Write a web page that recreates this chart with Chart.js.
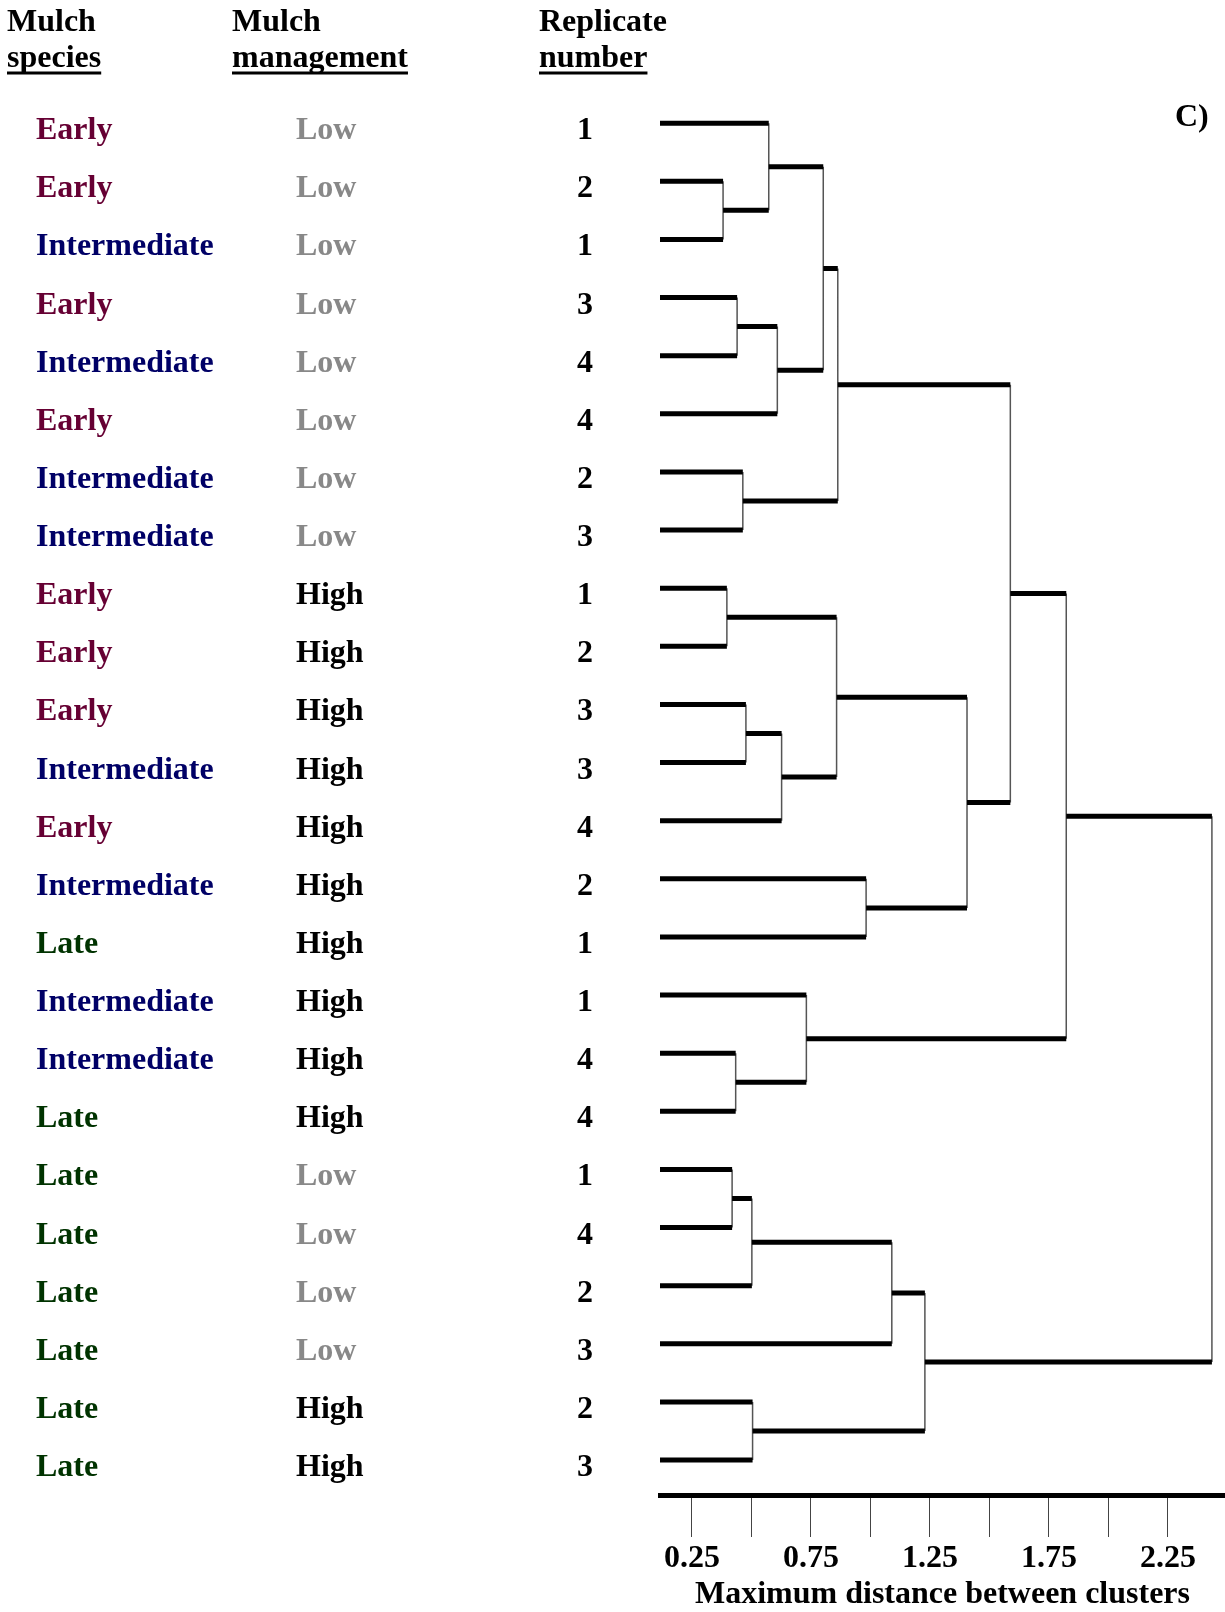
<!DOCTYPE html>
<html>
<head>
<meta charset="utf-8">
<script src="https://cdn.jsdelivr.net/npm/chart.js@4.4.0/dist/chart.umd.min.js"></script>
<style>
  html, body { margin: 0; padding: 0; background: #fff; }
  #wrap { position: relative; width: 1225px; height: 1612px; }
</style>
</head>
<body>
<div id="wrap"><canvas id="dendro"></canvas></div>
<script>
// ---- leaves, top to bottom ----
const species = ['Early', 'Early', 'Intermediate', 'Early', 'Intermediate', 'Early', 'Intermediate', 'Intermediate',
                 'Early', 'Early', 'Early', 'Intermediate', 'Early', 'Intermediate', 'Late', 'Intermediate',
                 'Intermediate', 'Late', 'Late', 'Late', 'Late', 'Late', 'Late', 'Late'];
const management = ['Low', 'Low', 'Low', 'Low', 'Low', 'Low', 'Low', 'Low',
                    'High', 'High', 'High', 'High', 'High', 'High', 'High', 'High',
                    'High', 'High', 'Low', 'Low', 'Low', 'Low', 'High', 'High'];
const replicate = [1, 2, 1, 3, 4, 4, 2, 3, 1, 2, 3, 3, 4, 2, 1, 1, 4, 4, 1, 4, 2, 3, 2, 3];

// ---- linkage: leaves are 0..23, each merge creates cluster 24, 25, ... ----
const mergeLeft     = [1, 8, 18, 16, 3, 6, 10, 26, 22, 0, 28, 30, 15, 33, 25, 37, 13, 31, 41, 38, 39, 44, 45];
const mergeRight    = [2, 9, 19, 17, 4, 7, 11, 20, 23, 24, 5, 12, 27, 34, 35, 29, 14, 21, 32, 40, 43, 36, 42];
const mergeDistance = [0.381, 0.397, 0.419, 0.434, 0.440, 0.464, 0.477, 0.502, 0.505, 0.573, 0.609, 0.627,
                       0.731, 0.802, 0.858, 0.863, 0.982, 1.090, 1.229, 1.406, 1.588, 1.823, 2.435];

const xTickLabels = [0.25, 0.75, 1.25, 1.75, 2.25];

// axis range
const X_MIN = 0.116, X_MAX = 2.49;

const FONT = 'bold 32px "Liberation Serif", "Times New Roman", serif';
const speciesColor = { Early: '#660033', Intermediate: '#000066', Late: '#003300' };
const managementColor = { Low: '#888888', High: '#000000' };

// =============================================
// BUILD SEGMENTS
// =============================================
const nodeX = [], nodeY = [];
species.forEach((_, i) => { nodeX[i] = X_MIN; nodeY[i] = i; });

const hSegs = [], vSegs = [];
const gap = { x: null, y: null };
mergeDistance.forEach((d, k) => {
    const a = mergeLeft[k], b = mergeRight[k];
    const id = species.length + k;
    [a, b].forEach(c => {
        hSegs.push({ x: nodeX[c], y: nodeY[c] }, { x: d, y: nodeY[c] }, gap);
    });
    vSegs.push({ x: d, y: nodeY[a] }, { x: d, y: nodeY[b] }, gap);
    nodeX[id] = d;
    nodeY[id] = (nodeY[a] + nodeY[b]) / 2;
});

// =============================================
// TEXT COLUMNS + HEADERS
// =============================================
const labelPlugin = {
    id: 'rowLabels',
    afterDraw(chart) {
        const ctx = chart.ctx;
        const ys = chart.scales.y;
        ctx.save();
        ctx.font = FONT;
        ctx.textBaseline = 'alphabetic';

        // headers
        const headers = [['Mulch', 'species', 7], ['Mulch', 'management', 232], ['Replicate', 'number', 539]];
        ctx.fillStyle = '#000';
        headers.forEach(([l1, l2, x]) => {
            ctx.textAlign = 'left';
            ctx.fillText(l1, x, 31);
            ctx.fillText(l2, x, 67);
            const w = ctx.measureText(l2).width;
            ctx.fillRect(x, 71.5, w, 3);
        });

        // rows
        species.forEach((s, i) => {
            const y = ys.getPixelForValue(i) + 16;
            ctx.textAlign = 'left';
            ctx.fillStyle = speciesColor[s];
            ctx.fillText(s, 36, y);
            ctx.fillStyle = managementColor[management[i]];
            ctx.fillText(management[i], 296, y);
            ctx.textAlign = 'center';
            ctx.fillStyle = '#000';
            ctx.fillText(String(replicate[i]), 585, y);
        });

        ctx.textAlign = 'left';
        ctx.fillStyle = '#000';
        ctx.fillText('C)', 1175, 126);
        ctx.restore();
    }
};

new Chart(document.getElementById('dendro'), {
    type: 'scatter',
    data: {
        datasets: [
            {
                data: hSegs,
                showLine: true,
                spanGaps: false,
                borderColor: '#000',
                borderWidth: 5,
                pointRadius: 0,
            },
            {
                data: vSegs,
                showLine: true,
                spanGaps: false,
                borderColor: '#555',
                borderWidth: 1.5,
                pointRadius: 0,
            }
        ]
    },
    options: {
        responsive: true,
        maintainAspectRatio: false,
        animation: false,
        layout: { padding: { top: 65, left: 660, right: 0, bottom: 0 } },
        scales: {
            x: {
                type: 'linear',
                min: X_MIN,
                max: X_MAX,
                afterFit: axis => { axis.height = 117; },
                border: { display: true, width: 5, color: '#000' },
                grid: { drawOnChartArea: false, drawTicks: true, tickLength: 42, tickWidth: 1, tickColor: '#444' },
                ticks: {
                    stepSize: 0.25,
                    includeBounds: false,
                    autoSkip: false,
                    maxRotation: 0,
                    padding: 3,
                    color: '#000',
                    font: { family: '"Liberation Serif", "Times New Roman", serif', size: 32, weight: 'bold' },
                    callback: v => xTickLabels.some(t => Math.abs(t - v) < 1e-6) ? v.toFixed(2) : ''
                },
                title: {
                    display: true,
                    text: 'Maximum distance between clusters',
                    color: '#000',
                    padding: 0,
                    font: { family: '"Liberation Serif", "Times New Roman", serif', size: 32, weight: 'bold', lineHeight: 1.1 }
                }
            },
            y: {
                type: 'linear',
                display: false,
                reverse: true,
                min: -1,
                max: 23.6
            }
        },
        plugins: {
            legend: { display: false },
            tooltip: { enabled: false }
        }
    },
    plugins: [labelPlugin]
});
</script>
</body>
</html>
